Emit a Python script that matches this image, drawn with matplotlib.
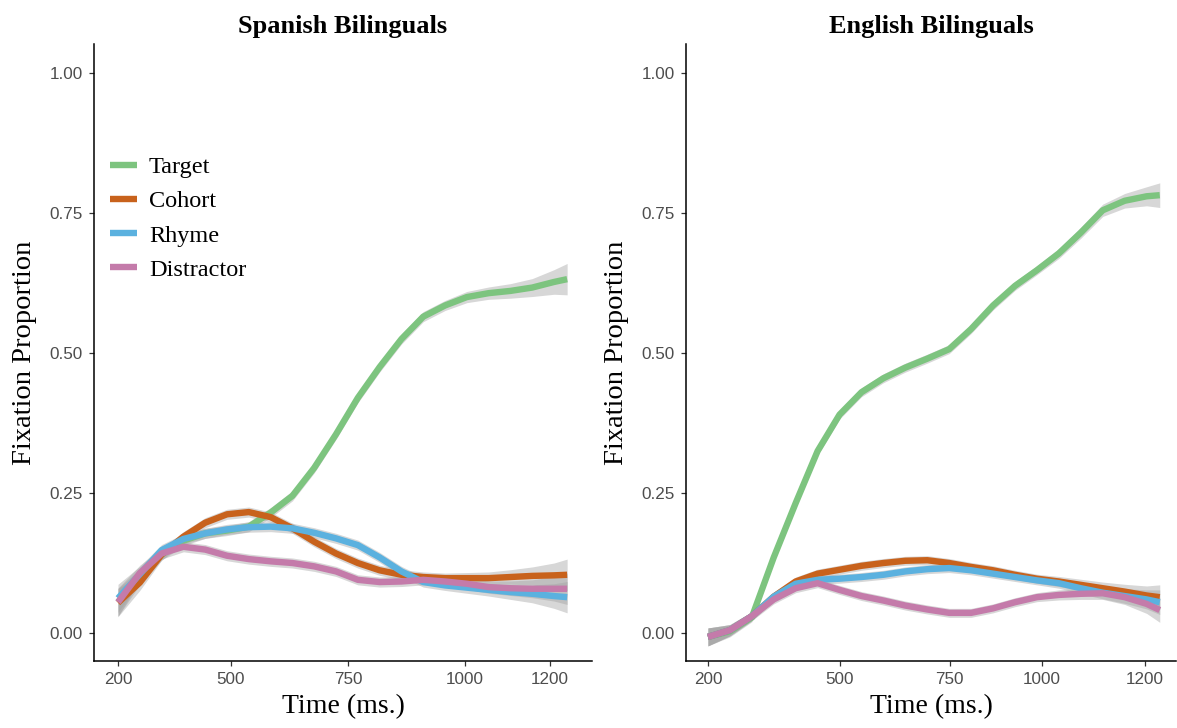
import matplotlib
matplotlib.use("Agg")
import matplotlib.pyplot as plt
import numpy as np

# ---------------- data ----------------
time_ms = [200, 250, 300, 350, 400, 450, 500, 550, 600, 650, 700, 750,
           800, 850, 900, 950, 1000, 1050, 1100, 1150, 1200, 1230]

series_names = ["Target", "Cohort", "Rhyme", "Distractor"]
series_colors = ["#7DC47F", "#C8621C", "#5BB1DF", "#C47BAA"]

# Spanish bilinguals
sp_target = [0.055, 0.100, 0.140, 0.165, 0.178, 0.183, 0.190, 0.215, 0.245, 0.295, 0.355, 0.420,
             0.475, 0.525, 0.565, 0.585, 0.600, 0.607, 0.611, 0.617, 0.627, 0.632]
sp_cohort = [0.054, 0.090, 0.140, 0.172, 0.197, 0.212, 0.216, 0.207, 0.187, 0.163, 0.142, 0.125,
             0.112, 0.104, 0.100, 0.098, 0.098, 0.098, 0.100, 0.102, 0.103, 0.104]
sp_rhyme = [0.062, 0.105, 0.148, 0.168, 0.178, 0.185, 0.189, 0.190, 0.187, 0.179, 0.169, 0.157,
            0.135, 0.110, 0.091, 0.085, 0.081, 0.077, 0.073, 0.070, 0.066, 0.064]
sp_distractor = [0.055, 0.107, 0.142, 0.154, 0.149, 0.138, 0.132, 0.128, 0.125, 0.119, 0.110, 0.095,
                 0.091, 0.092, 0.095, 0.092, 0.088, 0.082, 0.080, 0.079, 0.079, 0.079]
sp_se = [0.025, 0.014, 0.010, 0.009, 0.009, 0.009, 0.009, 0.009, 0.009, 0.009, 0.009, 0.009,
         0.009, 0.009, 0.009, 0.009, 0.010, 0.011, 0.013, 0.016, 0.022, 0.028]

# English bilinguals
en_target = [-0.007, 0.003, 0.028, 0.135, 0.232, 0.325, 0.390, 0.430, 0.455, 0.474, 0.490, 0.507,
             0.543, 0.585, 0.620, 0.648, 0.678, 0.715, 0.755, 0.772, 0.780, 0.782]
en_cohort = [-0.007, 0.005, 0.030, 0.065, 0.092, 0.106, 0.113, 0.120, 0.125, 0.129, 0.130, 0.125,
             0.118, 0.112, 0.104, 0.097, 0.092, 0.086, 0.080, 0.074, 0.067, 0.064]
en_rhyme = [-0.007, 0.005, 0.030, 0.065, 0.088, 0.095, 0.097, 0.100, 0.104, 0.110, 0.114, 0.116,
            0.112, 0.106, 0.100, 0.094, 0.089, 0.080, 0.072, 0.066, 0.060, 0.055]
en_distractor = [-0.007, 0.005, 0.030, 0.060, 0.080, 0.089, 0.077, 0.066, 0.058, 0.049, 0.042, 0.036,
                 0.036, 0.044, 0.055, 0.064, 0.068, 0.070, 0.071, 0.064, 0.052, 0.041]
en_se = [0.016, 0.010, 0.008, 0.008, 0.008, 0.008, 0.008, 0.008, 0.008, 0.008, 0.008, 0.008,
         0.008, 0.008, 0.008, 0.008, 0.009, 0.010, 0.011, 0.013, 0.017, 0.022]

y_ticks = [0.00, 0.25, 0.50, 0.75, 1.00]
y_ticklabels = ["0.00", "0.25", "0.50", "0.75", "1.00"]
x_ticklabels = ["200", "500", "750", "1000", "1200"]
sp_xtick_pos = [200, 459, 728, 996, 1191]
en_xtick_pos = [200, 501, 751, 961, 1196]

panels = [
    ("Spanish Bilinguals", [sp_target, sp_cohort, sp_rhyme, sp_distractor], sp_se, sp_xtick_pos, (145, 1287)),
    ("English Bilinguals", [en_target, en_cohort, en_rhyme, en_distractor], en_se, en_xtick_pos, (150, 1267)),
]

# ---------------- figure ----------------
W, H = 1177, 728
fig = plt.figure(figsize=(W / 100, H / 100), dpi=100)
serif = ["Liberation Serif", "DejaVu Serif"]
sans = ["Liberation Sans", "DejaVu Sans"]

axes_px = [(94, 44, 592, 661), (686, 44, 1176, 661)]
t = np.array(time_ms)

for i, (title, ys, se, xpos, xlim) in enumerate(panels):
    x0, y0, x1, y1 = axes_px[i]
    ax = fig.add_axes([x0 / W, 1 - y1 / H, (x1 - x0) / W, (y1 - y0) / H])
    se = np.array(se)
    for y, c in zip(ys, series_colors):
        y = np.array(y)
        ax.fill_between(t, y - se, y + se, color="#a0a0a0", alpha=0.42, lw=0, zorder=1)
    for k, (y, c, n) in enumerate(zip(ys, series_colors, series_names)):
        ax.plot(t, y, color=c, lw=4.6, solid_capstyle="butt", label=n, zorder=3 + k)
    ax.set_xlim(*xlim)
    ax.set_ylim(-0.05, 1.052)
    ax.set_xticks(xpos)
    ax.set_xticklabels(x_ticklabels)
    ax.set_yticks(y_ticks)
    ax.set_yticklabels(y_ticklabels)
    for s in ["top", "right"]:
        ax.spines[s].set_visible(False)
    for s in ["left", "bottom"]:
        ax.spines[s].set_linewidth(1.1)
        ax.spines[s].set_color("black")
    ax.tick_params(axis="both", length=3.6, width=0.9, color="#333333",
                   labelcolor="#4D4D4D", labelsize=12.3, pad=4.3)
    for lab in ax.get_xticklabels() + ax.get_yticklabels():
        lab.set_fontfamily(sans)
    ax.set_title(title, fontfamily=serif, fontweight="bold", fontsize=19, pad=8)
    ax.set_xlabel("Time (ms.)", fontfamily=serif, fontsize=20, labelpad=5)
    ax.set_ylabel("Fixation Proportion", fontfamily=serif, fontsize=20.5, labelpad=9)
    if i == 0:
        ax.legend(loc="upper left", bbox_to_anchor=(0.032, 0.818), frameon=False,
                  prop={"family": serif, "size": 17.5}, handlelength=1.1,
                  handletextpad=0.5, labelspacing=0.5, borderpad=0, borderaxespad=0)

fig.savefig("out.png", dpi=100, facecolor="white")
